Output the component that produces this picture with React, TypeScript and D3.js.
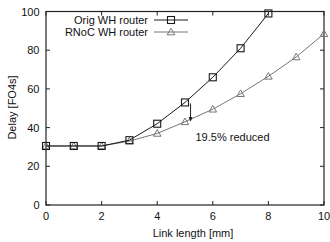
import React from "react";
import * as d3 from "d3";

const xs = [0, 1, 2, 3, 4, 5, 6, 7, 8, 9, 10];
const origX = [0, 1, 2, 3, 4, 5, 6, 7, 8];
const origY = [30.5, 30.5, 30.5, 33.5, 42, 53, 66, 81, 99];
const rnocX = [0, 1, 2, 3, 4, 5, 6, 7, 8, 9, 10];
const rnocY = [30.5, 30.5, 30.5, 33, 37, 43, 49.5, 57.5, 66.5, 76.5, 88.5];
const xTicks = [0, 2, 4, 6, 8, 10];
const yTicks = [0, 20, 40, 60, 80, 100];
const seriesNames = ["Orig WH router", "RNoC WH router"];

export default function App() {
  const W = 330, H = 242;
  const L = 46, R = 324, T = 11.5, B = 205;
  const x = d3.scaleLinear().domain([0, 10]).range([L, R]);
  const y = d3.scaleLinear().domain([0, 100]).range([B, T]);
  const line = d3.line<number>();
  const origPts: [number, number][] = origX.map((v, i) => [x(v), y(origY[i])]);
  const rnocPts: [number, number][] = rnocX.map((v, i) => [x(v), y(rnocY[i])]);
  const font = "'Liberation Sans', Arial, sans-serif";
  const fs = 11;
  const c1 = "#1a1a1a", c2 = "#777";
  const sq = (cx: number, cy: number, k: string, col: string) => (
    <rect key={k} x={cx - 3.5} y={cy - 3.5} width={7} height={7} fill="none" stroke={col} strokeWidth={1.1} />
  );
  const tri = (cx: number, cy: number, k: string, col: string) => (
    <path key={k} d={`M${cx},${cy - 3.8}L${cx + 3.8},${cy + 2.8}L${cx - 3.8},${cy + 2.8}Z`} fill="none" stroke={col} strokeWidth={1} />
  );
  const tk = 4;
  const arrowX = x(5.2);
  return (
    <svg width={W} height={H} style={{ position: "absolute", left: 0, top: 0, background: "#fff" }} fontFamily={font}>
      <rect x={0} y={0} width={W} height={H} fill="#fff" />
      <rect x={L} y={T} width={R - L} height={B - T} fill="none" stroke="#222" strokeWidth={1.2} />
      {xTicks.map((t) => (
        <g key={"xt" + t}>
          <line x1={x(t)} x2={x(t)} y1={B} y2={B - tk} stroke="#222" />
          <line x1={x(t)} x2={x(t)} y1={T} y2={T + tk} stroke="#222" />
          <text x={x(t)} y={B + 15} fontSize={fs} textAnchor="middle" fill="#111">{t}</text>
        </g>
      ))}
      {yTicks.map((t) => (
        <g key={"yt" + t}>
          <line x1={L} x2={L + tk} y1={y(t)} y2={y(t)} stroke="#222" />
          <line x1={R} x2={R - tk} y1={y(t)} y2={y(t)} stroke="#222" />
          <text x={39.5} y={y(t) + 4} fontSize={fs} textAnchor="end" fill="#111">{t}</text>
        </g>
      ))}
      <text x={193} y={236.5} fontSize={fs} textAnchor="middle" fill="#111">Link length [mm]</text>
      <text transform={`translate(15.5,107.5) rotate(-90)`} fontSize={fs} textAnchor="middle" fill="#111">Delay [FO4s]</text>
      <path d={line(rnocPts) || ""} fill="none" stroke={c2} strokeWidth={1} />
      {rnocPts.map((p, i) => tri(p[0], p[1], "r" + i, c2))}
      <path d={line(origPts) || ""} fill="none" stroke={c1} strokeWidth={1} />
      {origPts.map((p, i) => sq(p[0], p[1], "o" + i, c1))}
      <text x={148} y={24} fontSize={fs} textAnchor="end" fill="#111">{seriesNames[0]}</text>
      <line x1={154} x2={188} y1={20} y2={20} stroke={c1} />
      {sq(171, 20, "lo", c1)}
      <text x={148} y={36} fontSize={fs} textAnchor="end" fill="#111">{seriesNames[1]}</text>
      <line x1={154} x2={188} y1={32} y2={32} stroke={c2} />
      {tri(171, 32, "lr", c2)}
      <line x1={arrowX} x2={arrowX} y1={y(52.5)} y2={y(44)} stroke="#222" strokeWidth={1} />
      <path d={`M${arrowX},${y(43)}L${arrowX - 2},${y(45.5)}L${arrowX + 2},${y(45.5)}Z`} fill="#222" />
      <text x={195.5} y={141} fontSize={fs} fill="#111">19.5% reduced</text>
    </svg>
  );
}
